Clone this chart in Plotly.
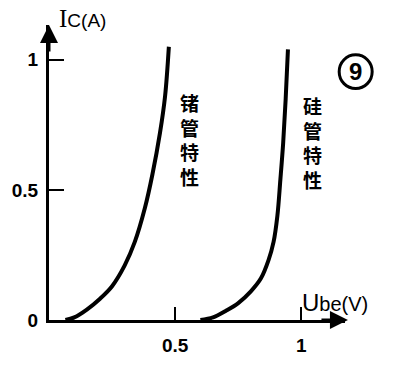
import plotly.graph_objects as go

# Data
ge_v = [0.065, 0.10, 0.15, 0.20, 0.25, 0.30, 0.34, 0.38, 0.41, 0.44, 0.46, 0.475]
ge_i = [0.0, 0.01, 0.04, 0.08, 0.13, 0.21, 0.30, 0.43, 0.56, 0.72, 0.86, 1.05]
si_v = [0.60, 0.65, 0.70, 0.75, 0.80, 0.84, 0.87, 0.89, 0.905, 0.917, 0.928, 0.938, 0.947]
si_i = [0.0, 0.01, 0.035, 0.065, 0.11, 0.16, 0.23, 0.30, 0.40, 0.54, 0.68, 0.85, 1.04]
x_tickvals = [0.5, 1]
x_ticktext = ["0.5", "1"]
y_tickvals = [0, 0.5, 1]
y_ticktext = ["0", "0.5", "1"]
ge_label = ["锗", "管", "特", "性"]
si_label = ["硅", "管", "特", "性"]

W, H = 404, 368
L, R, T, B = 40, 59, 25, 46
pw, ph = W - L - R, H - T - B
def px(x):
    return (x - L) / pw
def py(y):
    return (H - B - y) / ph

num_font = dict(family="Liberation Sans Narrow, Liberation Sans, sans-serif", size=19, color="black", weight="bold")
cjk_font = dict(family="Noto Sans CJK SC", size=19, color="black", weight="bold")

fig = go.Figure()
for xs, ys in [(ge_v, ge_i), (si_v, si_i)]:
    fig.add_trace(go.Scatter(x=xs, y=ys, mode="lines", line=dict(color="black", width=4, shape="spline", smoothing=1.0),
                             hoverinfo="skip", showlegend=False, cliponaxis=False))

fig.update_layout(
    width=W, height=H, margin=dict(l=L, r=R, t=T, b=B),
    paper_bgcolor="white", plot_bgcolor="white", showlegend=False,
    xaxis=dict(range=[0, (345 - L) / 260], showgrid=False, zeroline=False, showline=True, linecolor="black", linewidth=3,
               ticks="inside", ticklen=13, tickwidth=2, tickcolor="black",
               tickvals=x_tickvals, ticktext=x_ticktext, tickfont=num_font, ticklabelstandoff=6),
    yaxis=dict(range=[0, (H - B - T) / 262], showgrid=False, zeroline=False, showline=True, linecolor="black", linewidth=3,
               ticks="inside", ticklen=15, tickwidth=2, tickcolor="black",
               tickvals=y_tickvals, ticktext=y_ticktext, tickfont=num_font, ticklabelstandoff=4),
)

ann = []
# axis arrows
ann.append(dict(xref="paper", yref="paper", x=0, y=1, ax=0, ay=28, text="", showarrow=True,
                arrowhead=2, arrowsize=1.2, arrowwidth=3, arrowcolor="black", standoff=0))
ann.append(dict(xref="paper", yref="paper", x=1.01, y=0, ax=-28, ay=0, text="", showarrow=True,
                arrowhead=2, arrowsize=1.2, arrowwidth=3, arrowcolor="black", standoff=0))
# axis titles
ann.append(dict(xref="paper", yref="paper", x=px(48), y=py(34), xanchor="left", yanchor="bottom", showarrow=False,
                text="<span style='font-family:Liberation Serif'>I</span><span style='font-size:19px'>C(A)</span>",
                font=dict(family="Liberation Sans", size=25, color="black")))
ann.append(dict(xref="paper", yref="paper", x=px(299), y=py(320), xanchor="left", yanchor="bottom", showarrow=False,
                text="U<span style='font-size:20px'>be(V)</span>",
                font=dict(family="Liberation Sans", size=24, color="black")))
# vertical Chinese labels
ann.append(dict(xref="paper", yref="paper", x=px(185), y=py(140), xanchor="center", yanchor="middle",
                showarrow=False, text="<br>".join(ge_label), font=cjk_font))
ann.append(dict(xref="paper", yref="paper", x=px(311), y=py(143), xanchor="center", yanchor="middle",
                showarrow=False, text="<br>".join(si_label), font=cjk_font))
# circled 9
ann.append(dict(xref="paper", yref="paper", x=px(356), y=py(72), xanchor="center", yanchor="middle",
                showarrow=False, text="9",
                font=dict(family="Liberation Sans", size=24, color="black", weight="bold")))
fig.update_layout(annotations=ann)
fig.add_shape(type="circle", xref="paper", yref="paper", x0=px(339), x1=px(373), y0=py(89), y1=py(55),
              line=dict(color="black", width=3))

fig.write_html("out.html")
